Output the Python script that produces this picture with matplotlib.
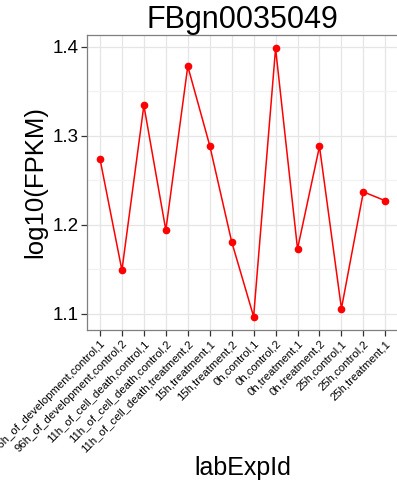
import matplotlib
matplotlib.use("Agg")
import matplotlib.pyplot as plt
from matplotlib.ticker import MultipleLocator

plt.rcParams['font.family'] = ['Liberation Sans', 'DejaVu Sans']

title = "FBgn0035049"
categories = [
    "96h_of_development,control,1",
    "96h_of_development,control,2",
    "11h_of_cell_death,control,1",
    "11h_of_cell_death,control,2",
    "11h_of_cell_death,treatment,2",
    "15h,treatment,1",
    "15h,treatment,2",
    "0h,control,1",
    "0h,control,2",
    "0h,treatment,1",
    "0h,treatment,2",
    "25h,control,1",
    "25h,control,2",
    "25h,treatment,1",
]
values = [1.274, 1.149, 1.334, 1.194, 1.378, 1.289, 1.181, 1.097,
          1.398, 1.173, 1.288, 1.106, 1.237, 1.227]
yticks = [1.1, 1.2, 1.3, 1.4]

W, H = 397, 483
fig = plt.figure(figsize=(W / 100, H / 100), dpi=100)
left, right, top, bottom = 86.8, 398.5, 35, 330
ax = fig.add_axes([left / W, 1 - bottom / H, (right - left) / W, (bottom - top) / H])

x = list(range(len(categories)))
ax.plot(x, values, color='#ff0000', linewidth=1.1, marker='o', markersize=4.5, zorder=3)

ax.set_xlim(-0.6, len(categories) - 1 + 0.6)
ymin, ymax = min(values), max(values)
pad = (ymax - ymin) * 0.05
ax.set_ylim(ymin - pad, ymax + pad)
ax.set_yticks(yticks)
ax.set_yticklabels([f"{v:.1f}" for v in yticks])
ax.yaxis.set_minor_locator(MultipleLocator(0.05))
ax.set_xticks(x)
ax.set_xticklabels(categories, rotation=45, ha='right', va='top',
                   rotation_mode='anchor', fontsize=8.2)

ax.grid(True, which='major', color='#e5e5e5', linewidth=0.9, zorder=0)
ax.grid(True, which='minor', axis='y', color='#f2f2f2', linewidth=0.9, zorder=0)
ax.set_axisbelow(True)
for s in ax.spines.values():
    s.set_color('#7f7f7f')
    s.set_linewidth(0.9)
ax.tick_params(axis='both', which='major', length=4, width=0.9, color='#333333', pad=2)
ax.tick_params(axis='y', labelsize=13.5, pad=2)
ax.tick_params(axis='y', which='minor', length=0)

ax.set_title(title, fontsize=22, pad=3)
ax.set_ylabel("log10(FPKM)", fontsize=18.5, labelpad=2, va='center')
ax.yaxis.set_label_coords(-(left - 35) / (right - left), 0.5)
ax.set_xlabel("labExpId", fontsize=18, va='center')
ax.xaxis.set_label_coords((243 - left) / (right - left), -(468 - bottom) / (bottom - top))

fig.savefig("out.png", dpi=100)
